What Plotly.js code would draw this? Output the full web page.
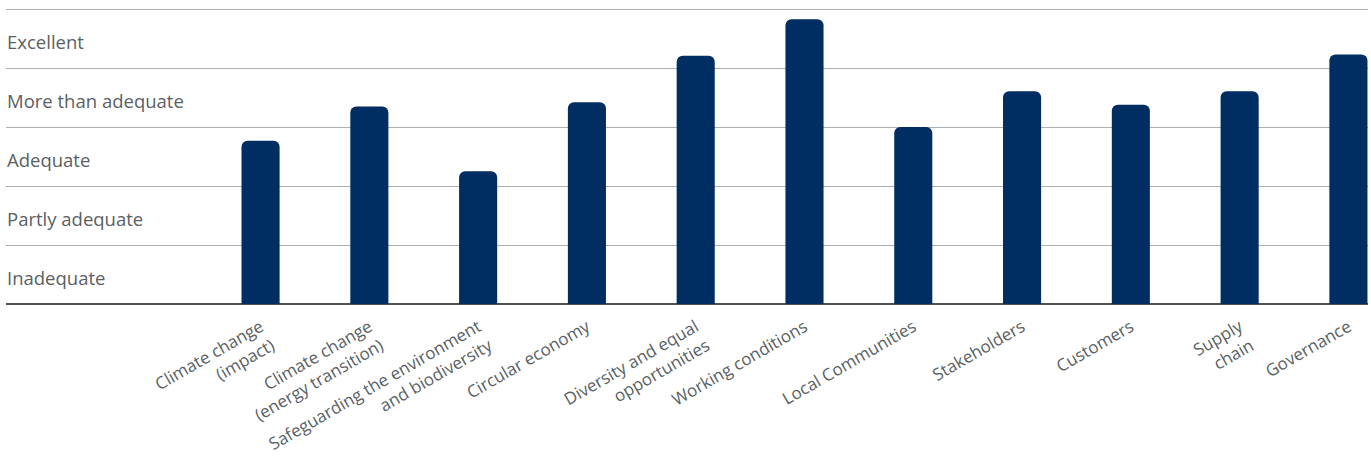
<!DOCTYPE html>
<html>
<head>
<meta charset="utf-8">
<script src="https://cdn.plot.ly/plotly-3.0.1.min.js"></script>
<style>html,body{margin:0;padding:0;background:#fff;}#chart{width:1371px;height:459px;}</style>
</head>
<body>
<div id="chart"></div>
<script>
const categories = [
  "Climate change<br>(impact)",
  "Climate change<br>(energy transition)",
  "Safeguarding the environment<br>and biodiversity",
  "Circular economy",
  "Diversity and equal<br>opportunities",
  "Working conditions",
  "Local Communities",
  "Stakeholders",
  "Customers",
  "Supply<br>chain",
  "Governance"
];
const scores = [2.77, 3.35, 2.25, 3.42, 4.21, 4.83, 3.0, 3.61, 3.38, 3.61, 4.23];
const levelLabels = ["Inadequate", "Partly adequate", "Adequate", "More than adequate", "Excellent"];
const levelValues = [0.5, 1.5, 2.5, 3.5, 4.5];
const gridValues = [1, 2, 3, 4, 5];

const textColor = "#5a5f63";
const fontFamily = "Open Sans, sans-serif";

const trace = {
  type: "bar",
  x: categories,
  y: scores,
  width: 0.35,
  marker: { color: "#002d62", cornerradius: 6 },
  hoverinfo: "x+y"
};

const annotations = levelLabels.map((t, i) => ({
  text: t,
  xref: "paper",
  x: 0,
  xanchor: "left",
  xshift: -1,
  yref: "y",
  y: levelValues[i],
  yanchor: "middle",
  yshift: -3,
  showarrow: false,
  font: { family: fontFamily, size: 18.5, color: textColor }
}));

const layout = {
  width: 1371,
  height: 459,
  margin: { l: 6, r: 3, t: 8, b: 155, pad: 0 },
  paper_bgcolor: "#ffffff",
  plot_bgcolor: "#ffffff",
  showlegend: false,
  xaxis: {
    type: "category",
    range: [-2.34, 10.18],
    tickangle: -30,
    ticklabelstandoff: 9,
    tickfont: { family: fontFamily, size: 17, color: textColor },
    showgrid: false,
    zeroline: false,
    showline: false,
    ticks: "",
    automargin: false
  },
  yaxis: {
    range: [0, 5.02],
    tickvals: gridValues,
    showticklabels: false,
    showgrid: true,
    gridcolor: "#a9afb3",
    gridwidth: 1,
    zeroline: true,
    zerolinecolor: "#4d5255",
    zerolinewidth: 1.2,
    showline: false,
    ticks: "",
    fixedrange: true
  },
  annotations: annotations
};

Plotly.newPlot("chart", [trace], layout, { displayModeBar: false, staticPlot: true });
</script>
</body>
</html>
